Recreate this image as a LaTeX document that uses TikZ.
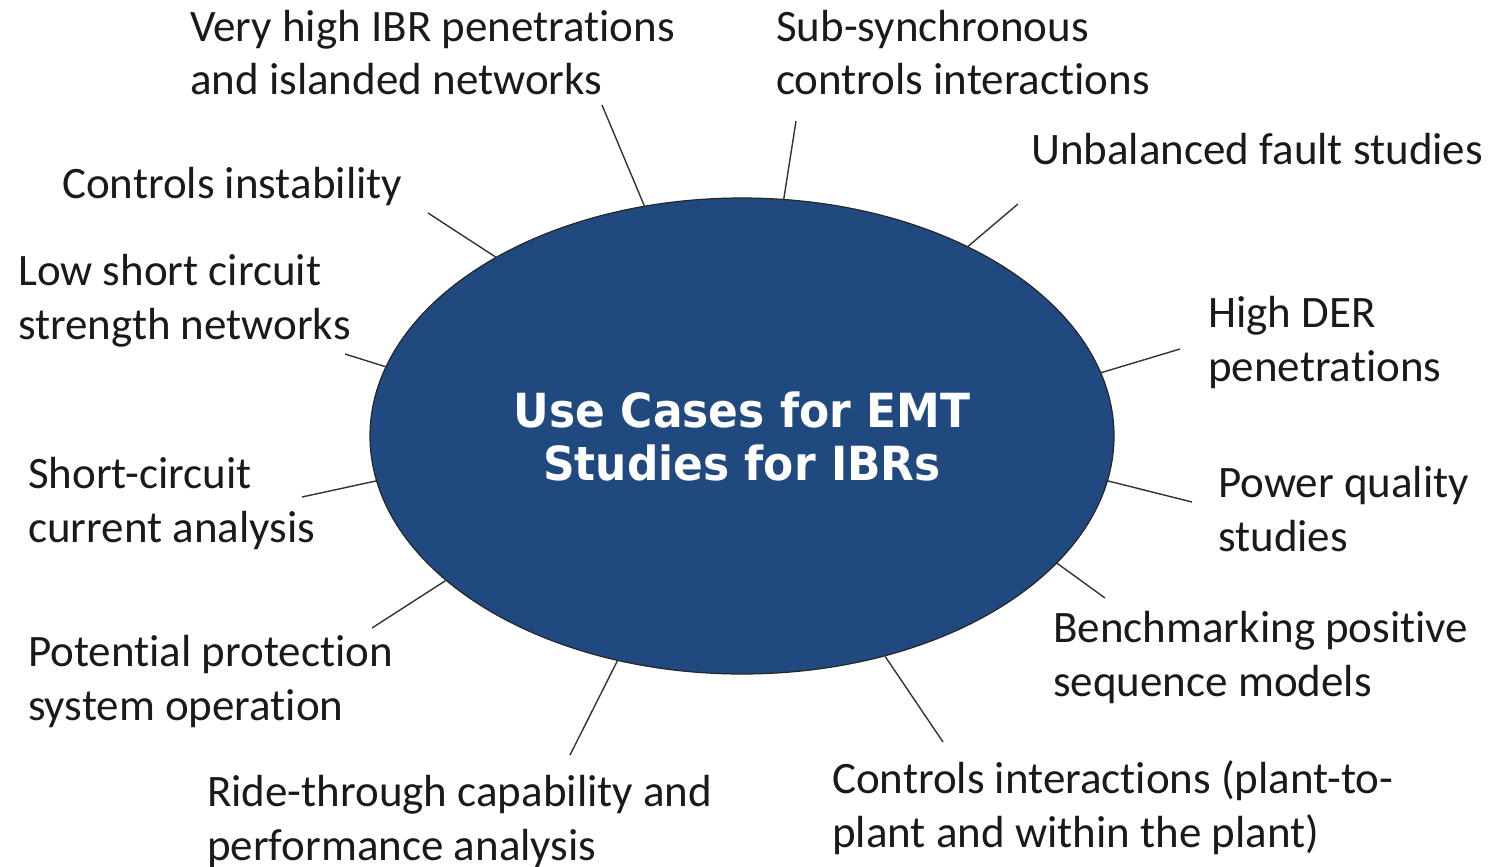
\documentclass[tikz,border=0pt]{standalone}
\usepackage{fontspec}
\setmainfont{Carlito}[Ligatures=NoCommon]
\newfontfamily\titlefont{DejaVu Sans}
\usetikzlibrary{shapes.geometric}
\definecolor{hubblue}{HTML}{204A7F}
\definecolor{txt}{HTML}{1A1A1A}
\begin{document}
\begin{tikzpicture}[x=1pt,y=-1pt,
  lbl/.style={anchor=base west,align=left,inner sep=0pt,text=txt,font=\fontsize{45}{54}\selectfont},
  conn/.style={draw=black!80,line width=1.4pt},
  hubstyle/.style={ellipse,draw=black!85,line width=1.2pt,fill=hubblue,minimum width=744pt,minimum height=476pt,inner sep=0pt},
  ttl/.style={anchor=base,inner sep=0pt,text=white,font=\titlefont\bfseries\fontsize{47}{53}\selectfont}]
\useasboundingbox (0,0) rectangle (1491,867);
\node[hubstyle] (hub) at (742,436) {};
\node[ttl] (t1) at (742,427) {\scalebox{0.935}[1]{Use Cases for EMT}};
\node[ttl] (t2) at (742,480) {\scalebox{0.935}[1]{Studies for IBRs}};
% labels (anchor = baseline of last line)
\node[lbl] (l1) at (190,95) {Very high IBR penetrations\\and islanded networks};
\node[lbl] (l2) at (776,95) {Sub-synchronous\\controls interactions};
\node[lbl] (l3) at (1031,164) {Unbalanced fault studies};
\node[lbl] (l4) at (1208,381) {High DER\\penetrations};
\node[lbl] (l5) at (1218,551) {Power quality\\studies};
\node[lbl] (l6) at (1053,696) {Benchmarking positive\\sequence models};
\node[lbl] (l7) at (832,847) {Controls interactions (plant-to-\\plant and within the plant)};
\node[lbl] (l8) at (207,860) {Ride-through capability and\\performance analysis};
\node[lbl] (l9) at (28,720) {Potential protection\\system operation};
\node[lbl] (l10) at (28,542) {Short-circuit\\current analysis};
\node[lbl] (l11) at (18,339) {Low short circuit\\strength networks};
\node[lbl] (l12) at (62,198) {Controls instability};
% connector outer ends
\coordinate (e1) at (602,105);
\coordinate (e2) at (796,121);
\coordinate (e3) at (1018,204);
\coordinate (e4) at (1180,349);
\coordinate (e5) at (1192,502);
\coordinate (e6) at (1105,598);
\coordinate (e7) at (943,742);
\coordinate (e8) at (570,755);
\coordinate (e9) at (372,628);
\coordinate (e10) at (302,497);
\coordinate (e11) at (345,354);
\coordinate (e12) at (428,213);
\draw[conn] (hub.113.8) -- (e1);
\draw[conn] (hub.80) -- (e2);
\draw[conn] (hub.40.6) -- (e3);
\draw[conn] (hub.10.9) -- (e4);
\draw[conn] (hub.-7.3) -- (e5);
\draw[conn] (hub.-22.9) -- (e6);
\draw[conn] (hub.-57) -- (e7);
\draw[conn] (hub.241.8) -- (e8);
\draw[conn] (hub.206.3) -- (e9);
\draw[conn] (hub.187) -- (e10);
\draw[conn] (hub.169.9) -- (e11);
\draw[conn] (hub.144.9) -- (e12);
\end{tikzpicture}
\end{document}
